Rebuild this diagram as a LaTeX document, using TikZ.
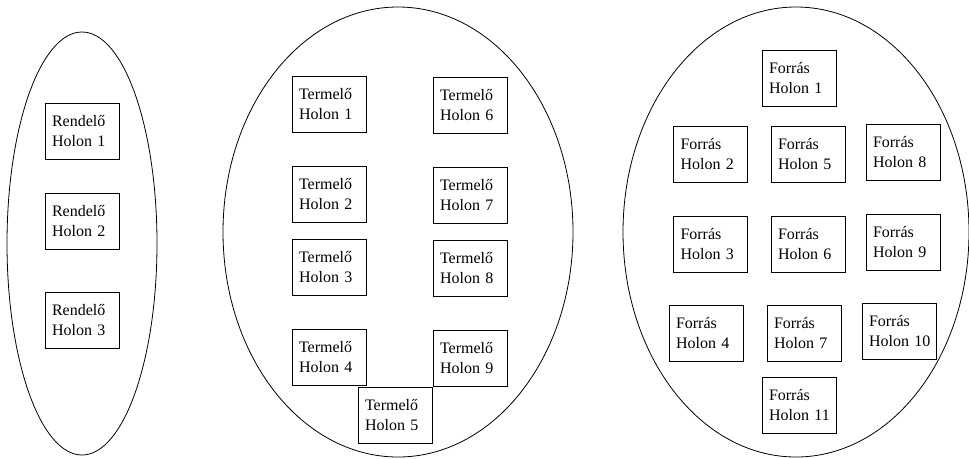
\documentclass[tikz,border=0pt]{standalone}
\usepackage{fontspec}
\setmainfont{Liberation Serif}
\usepackage{tikz}
\usetikzlibrary{positioning}

\begin{document}
\begin{tikzpicture}[
    x=0.75pt, y=-0.75pt,
    holon/.style={draw, line width=0.6pt, rectangle, minimum width=55.5pt, minimum height=42pt,
        text width=45pt, inner xsep=5.25pt, align=left, font=\fontsize{12}{15}\selectfont},
    group/.style={draw, line width=0.6pt}
]
    \useasboundingbox (0,0) rectangle (969,458);

    % the three groups
    \draw[group] (82,243.5) ellipse [x radius=75, y radius=211.5];
    \draw[group] (398,232) ellipse [x radius=175, y radius=225];
    \draw[group] (796,232) ellipse [x radius=173, y radius=225];

    % order holons
    \node[holon] (R1) at (82,131) {Rendelő\\Holon 1};
    \node[holon] (R2) at (82,221) {Rendelő\\Holon 2};
    \node[holon] (R3) at (82,320) {Rendelő\\Holon 3};

    % production holons
    \node[holon] (T1) at (329,104.5) {Termelő\\Holon 1};
    \node[holon] (T2) at (329,194.5) {Termelő\\Holon 2};
    \node[holon] (T3) at (329,267) {Termelő\\Holon 3};
    \node[holon] (T4) at (329,357) {Termelő\\Holon 4};
    \node[holon] (T5) at (395,415) {Termelő\\Holon 5};
    \node[holon] (T6) at (470,105.5) {Termelő\\Holon 6};
    \node[holon] (T7) at (470,195.5) {Termelő\\Holon 7};
    \node[holon] (T8) at (470,268) {Termelő\\Holon 8};
    \node[holon] (T9) at (470,358) {Termelő\\Holon 9};

    % resource holons
    \node[holon] (F1) at (799,78.5) {Forrás\\Holon 1};
    \node[holon] (F2) at (710.5,154.5) {Forrás\\Holon 2};
    \node[holon] (F3) at (710.5,244.5) {Forrás\\Holon 3};
    \node[holon] (F4) at (706,333) {Forrás\\Holon 4};
    \node[holon] (F5) at (808,154.5) {Forrás\\Holon 5};
    \node[holon] (F6) at (808,244.5) {Forrás\\Holon 6};
    \node[holon] (F7) at (804,333) {Forrás\\Holon 7};
    \node[holon] (F8) at (903,152.5) {Forrás\\Holon 8};
    \node[holon] (F9) at (903,242.5) {Forrás\\Holon 9};
    \node[holon] (F10) at (899,331) {Forrás\\Holon~10};
    \node[holon] (F11) at (799,405.5) {Forrás\\Holon~11};
\end{tikzpicture}
\end{document}
